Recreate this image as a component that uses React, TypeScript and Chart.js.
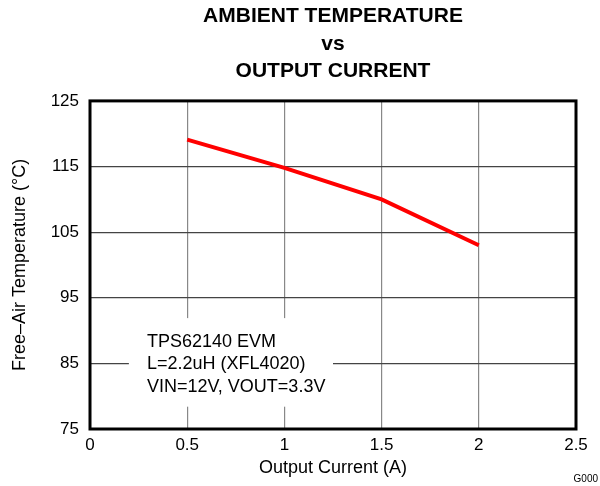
import React, { useEffect, useRef } from "react";
import { Chart, registerables } from "chart.js";

Chart.register(...registerables);

const currents = [0.5, 1, 1.5, 2];
const temperatures = [119.1, 114.8, 110.0, 103.0];
const xTicks = [0, 0.5, 1, 1.5, 2, 2.5];
const yTicks = [75, 85, 95, 105, 115, 125];
const titleLines = ["AMBIENT TEMPERATURE", "vs", "OUTPUT CURRENT"];
const noteLines = ["TPS62140 EVM", "L=2.2uH (XFL4020)", "VIN=12V, VOUT=3.3V"];

const FONT = "Arial, 'Liberation Sans', sans-serif";

export default function App() {
  const ref = useRef<HTMLCanvasElement | null>(null);
  useEffect(() => {
    document.body.style.margin = "0";
    const canvas = ref.current!;
    const notePlugin = {
      id: "note",
      beforeDatasetsDraw(chart: any) {
        const { ctx, scales } = chart;
        const x = scales.x, y = scales.y;
        const l = x.getPixelForValue(0.2), r = x.getPixelForValue(1.25);
        const t = y.getPixelForValue(91.9), b = y.getPixelForValue(78.4);
        ctx.save();
        ctx.fillStyle = "#ffffff";
        ctx.fillRect(l, t, r - l, b - t);
        ctx.fillStyle = "#000000";
        ctx.font = `18px ${FONT}`;
        ctx.textBaseline = "middle";
        ctx.textAlign = "left";
        const tx = x.getPixelForValue(0.293);
        const y0 = y.getPixelForValue(88.3);
        noteLines.forEach((s, i) => ctx.fillText(s, tx, y0 + i * 22.5));
        ctx.restore();
      },
      afterDatasetsDraw(chart: any) {
        const { ctx, chartArea } = chart;
        ctx.save();
        ctx.strokeStyle = "#000000";
        ctx.lineWidth = 3;
        ctx.strokeRect(chartArea.left, chartArea.top, chartArea.right - chartArea.left, chartArea.bottom - chartArea.top);
        ctx.fillStyle = "#000000";
        ctx.font = `10px ${FONT}`;
        ctx.textAlign = "right";
        ctx.textBaseline = "middle";
        ctx.fillText("G000", 598, 479);
        ctx.restore();
      },
    };
    const chart = new Chart(canvas, {
      type: "line",
      data: {
        datasets: [
          {
            data: currents.map((c, i) => ({ x: c, y: temperatures[i] })),
            borderColor: "#ff0000",
            borderWidth: 4,
            pointRadius: 0,
            fill: false,
            tension: 0,
          },
        ],
      },
      options: {
        animation: false,
        responsive: false,
        maintainAspectRatio: false,
        layout: { padding: { left: 0, right: 24, top: 0, bottom: 0 } },
        plugins: {
          legend: { display: false },
          tooltip: { enabled: false },
          title: {
            display: true,
            fullSize: false,
            text: titleLines,
            color: "#000000",
            font: { family: FONT, size: 21, weight: "bold", lineHeight: 1.3 },
            padding: { top: 3, bottom: 16 },
          },
        },
        scales: {
          x: {
            type: "linear",
            min: 0,
            max: 2.5,
            afterBuildTicks: (s: any) => {
              s.ticks = xTicks.map((v) => ({ value: v }));
            },
            afterFit: (s: any) => {
              s.height = 57;
            },
            ticks: {
              color: "#000000",
              font: { family: FONT, size: 17 },
              padding: 6,
              maxRotation: 0,
              callback: (v: any) => String(v),
            },
            grid: { color: "#888888", lineWidth: 1.2, drawTicks: false },
            border: { display: false },
            title: {
              display: true,
              text: "Output Current (A)",
              color: "#000000",
              font: { family: FONT, size: 18 },
              padding: { top: 0, bottom: 7 },
            },
          },
          y: {
            type: "linear",
            min: 75,
            max: 125,
            afterBuildTicks: (s: any) => {
              s.ticks = yTicks.map((v) => ({ value: v }));
            },
            afterFit: (s: any) => {
              s.width = 90;
            },
            ticks: {
              color: "#000000",
              font: { family: FONT, size: 17 },
              padding: 11,
              callback: (v: any) => String(v),
            },
            grid: { color: "#444444", lineWidth: 1.2, drawTicks: false },
            border: { display: false },
            title: {
              display: true,
              text: "Free\u2013Air Temperature (°C)",
              color: "#000000",
              font: { family: FONT, size: 18 },
              padding: { top: 9, bottom: 0 },
            },
          },
        },
      },
      plugins: [notePlugin],
    } as any);
    return () => chart.destroy();
  }, []);
  return (
    <div style={{ position: "fixed", left: 0, top: 0, width: 600, height: 486, background: "#fff" }}>
      <canvas ref={ref} width={600} height={486} style={{ width: 600, height: 486 }} />
    </div>
  );
}
